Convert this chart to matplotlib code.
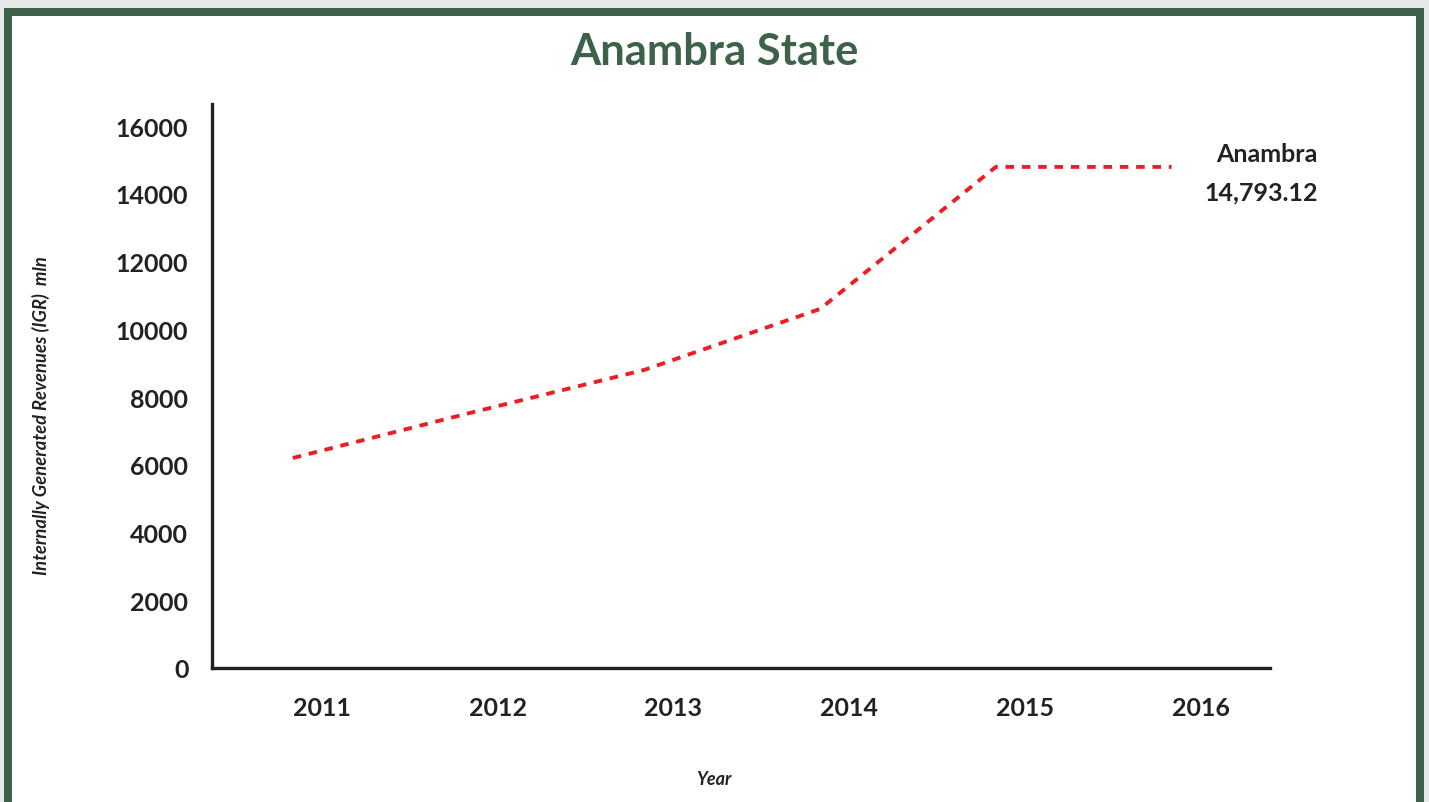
import matplotlib.pyplot as plt
import numpy as np
from matplotlib.patches import Rectangle

# Anambra State IGR (mln)
years = np.array([2011, 2012, 2013, 2014, 2015, 2016])
igr = np.array([6200, 7520, 8800, 10600, 14793.12, 14793.12])
year_labels = ['2011', '2012', '2013', '2014', '2015', '2016']
y_ticks = [0, 2000, 4000, 6000, 8000, 10000, 12000, 14000, 16000]

green = '#3e6249'
red = '#ee1c25'
dark = '#222222'

plt.rcParams['font.family'] = ['Lato', 'DejaVu Sans']

fig = plt.figure(figsize=(14.29, 8.03), dpi=100)
fig.patch.set_facecolor('#e6e7e9')
W, H = 1429, 803
# green frame and white panel (figure pixel coords converted to fractions)
fig.patches.append(Rectangle((4 / W, 0), (1424 - 4) / W, (H - 9) / H,
                             transform=fig.transFigure, facecolor=green,
                             edgecolor='none', zorder=-2))
fig.patches.append(Rectangle((12 / W, 0), (1416 - 12) / W, (H - 17) / H,
                             transform=fig.transFigure, facecolor='white',
                             edgecolor='none', zorder=-1))

ax = fig.add_axes([212 / W, 1 - 669 / H, (1270 - 212) / W, (669 - 105) / H])
ax.set_facecolor('none')

ax.plot(years, igr, color=red, lw=2.8, linestyle=(0, (2.2, 2.0)),
        solid_capstyle='butt', dash_capstyle='butt')

ax.set_xlim(2010.54, 2016.56)
ax.set_ylim(0, 16650)
ax.set_xticks(years + 0.165, year_labels)
ax.set_yticks(y_ticks, [str(v) for v in y_ticks])
ax.tick_params(length=0, labelsize=18, colors=dark)
ax.tick_params(axis='y', pad=17)
ax.tick_params(axis='x', pad=20)
for lab in ax.get_xticklabels() + ax.get_yticklabels():
    lab.set_fontweight('bold')

for side in ['top', 'right']:
    ax.spines[side].set_visible(False)
for side in ['left', 'bottom']:
    ax.spines[side].set_color(dark)
    ax.spines[side].set_linewidth(2.4)

# end label
ax.text(1318 / W, 1 - 155 / H, 'Anambra', transform=fig.transFigure,
        ha='right', va='center', fontsize=18, fontweight='bold', color=dark)
ax.text(1318 / W, 1 - 193 / H, f'{igr[-1]:,.2f}', transform=fig.transFigure,
        ha='right', va='center', fontsize=18, fontweight='bold', color=dark)

fig.text(714 / W, 1 - 52 / H, 'Anambra State', ha='center', va='center',
         fontsize=31.3, fontweight='bold', color=green)
fig.text(41 / W, 1 - 416 / H, 'Internally Generated Revenues (IGR)  mln',
         rotation=90, ha='center', va='center', fontsize=13.2,
         fontstyle='italic', fontweight='bold', color=dark)
fig.text(714 / W, 1 - 780 / H, 'Year', ha='center', va='center', fontsize=13,
         fontstyle='italic', fontweight='bold', color=dark)

fig.savefig('out.png', dpi=100, facecolor=fig.get_facecolor())
